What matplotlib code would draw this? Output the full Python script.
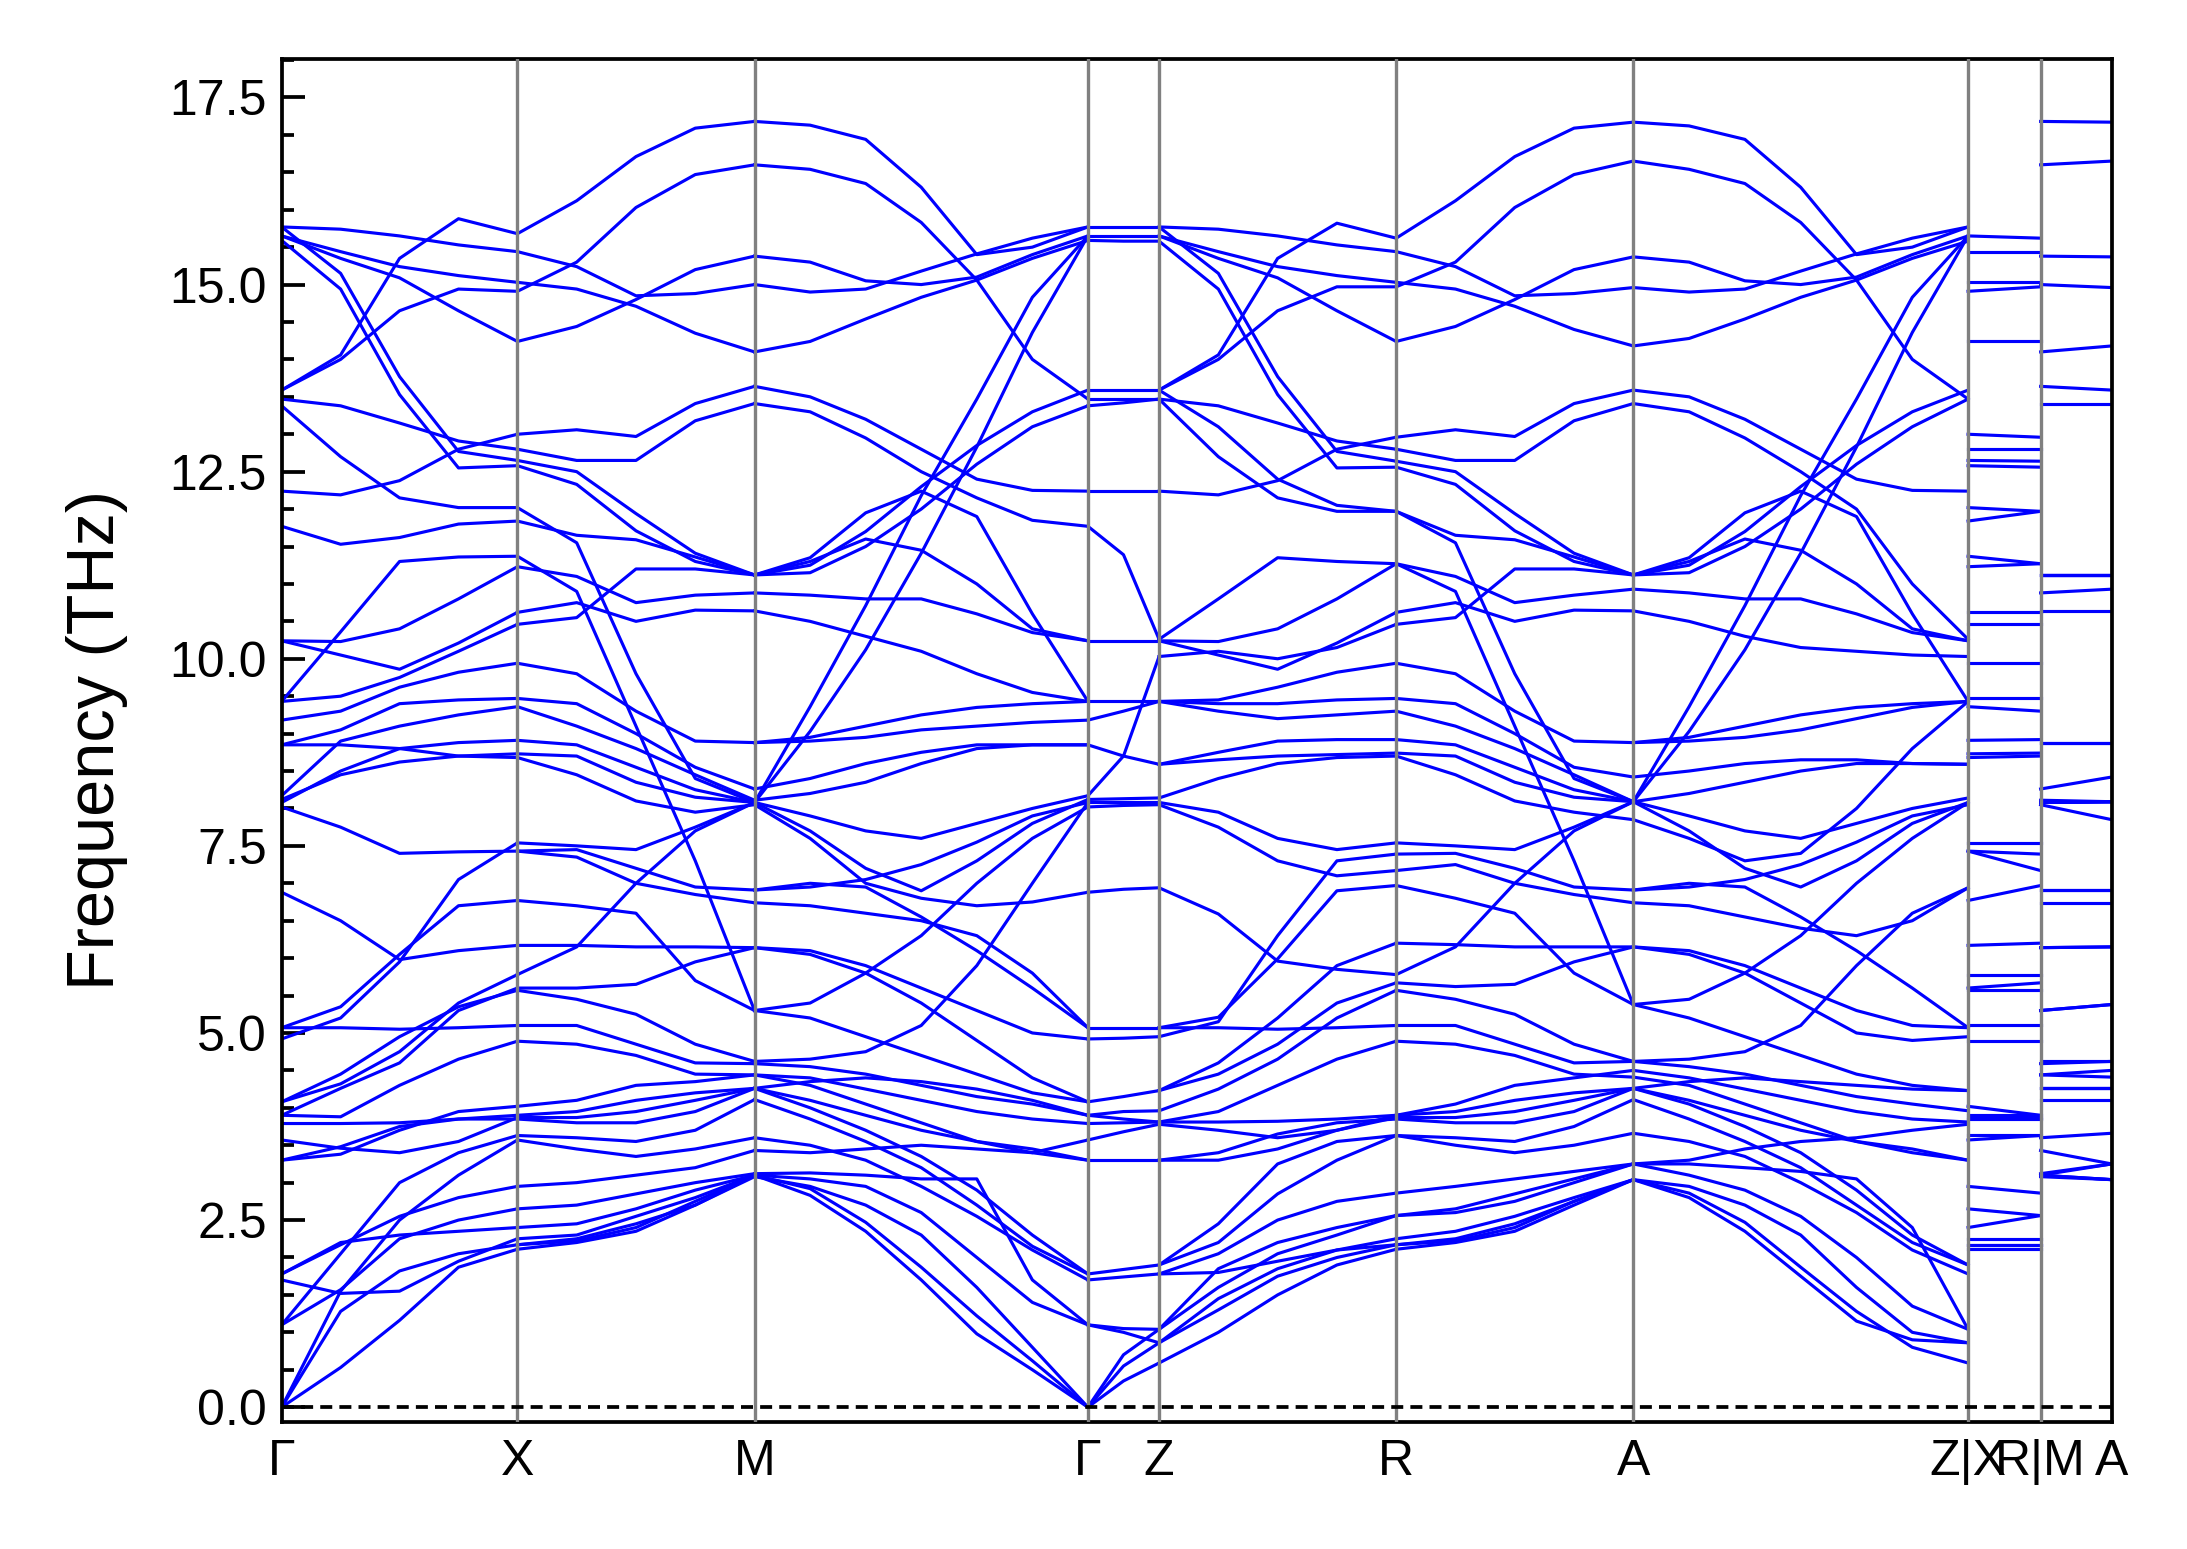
import numpy as np
import matplotlib
matplotlib.use("Agg")
import matplotlib.pyplot as plt

plt.rcParams['font.family'] = ['Liberation Sans', 'DejaVu Sans']

# ---------------- data (THz) ----------------
point_labels = ["Γ", "X", "M", "Γ", "Z", "R", "A", "Z|X", "R|M", "A"]
# segment lengths along the q-path (arbitrary reciprocal units)
seg_lengths = [0.169, 0.170, 0.239, 0.051, 0.170, 0.170, 0.240, 0.052, 0.051]

# frequencies at X, R, M, A (used for the short X-R and M-A segments)
X = [2.11, 2.17, 2.17, 2.25, 2.40, 2.65, 2.95, 3.57, 3.63, 3.85, 3.87, 3.90, 4.02, 4.89, 5.10,
     5.57, 5.60, 5.78, 6.17, 6.77, 7.43, 7.43, 7.54, 8.68, 8.73, 8.91, 9.36, 9.47, 9.94,
     10.46, 10.62, 11.23, 11.37, 11.84, 12.02, 12.58, 12.65, 12.80, 13.00,
     14.24, 14.91, 15.03, 15.44, 15.65]
R = [2.11, 2.17, 2.17, 2.25, 2.56, 2.56, 2.86, 3.63, 3.63, 3.85, 3.87, 3.90, 3.90, 4.89, 5.10,
     5.57, 5.67, 5.78, 6.20, 6.97, 7.17, 7.39, 7.54, 8.70, 8.74, 8.92, 9.30, 9.47, 9.94,
     10.46, 10.62, 11.27, 11.27, 11.97, 11.97, 12.56, 12.64, 12.80, 12.96,
     14.24, 14.97, 15.03, 15.44, 15.62]
M = [3.08, 3.10, 3.10, 3.10, 3.12, 3.43, 3.60, 4.11, 4.26, 4.26, 4.26, 4.44, 4.44, 4.59, 4.62,
     5.30, 5.30, 6.14, 6.14, 6.74, 6.91, 6.91, 8.05, 8.08, 8.08, 8.08, 8.08, 8.11, 8.26, 8.88, 8.88,
     10.64, 10.88, 11.12, 11.12, 11.12, 11.12, 13.41, 13.64,
     14.10, 15.00, 15.38, 16.60, 17.18]
A = [3.04, 3.04, 3.04, 3.25, 3.25, 3.25, 3.66, 4.11, 4.26, 4.26, 4.26, 4.41, 4.50, 4.62, 4.62,
     5.38, 5.38, 6.15, 6.15, 6.74, 6.91, 6.91, 7.85, 8.09, 8.09, 8.09, 8.09, 8.09, 8.42, 8.88, 8.88,
     10.64, 10.93, 11.12, 11.12, 11.12, 11.12, 13.41, 13.59,
     14.18, 14.96, 15.37, 16.65, 17.17]

# band curves, one row per band, values at evenly spaced q-points of each segment
bands_GX = [
    [0.00, 0.53, 1.16, 1.87, 2.11], [0.00, 1.28, 1.82, 2.05, 2.17], [0.00, 1.55, 2.50, 3.10, 3.57],
    [1.10, 2.05, 3.00, 3.40, 3.63], [1.10, 1.57, 2.25, 2.50, 2.65], [1.70, 1.52, 1.55, 1.95, 2.25],
    [1.78, 2.17, 2.55, 2.80, 2.95], [1.78, 2.20, 2.30, 2.35, 2.40], [3.30, 3.38, 3.70, 3.95, 4.02],
    [3.30, 3.48, 3.75, 3.85, 3.85], [3.57, 3.46, 3.40, 3.55, 3.87], [3.79, 3.79, 3.80, 3.85, 3.90],
    [3.90, 3.88, 4.30, 4.65, 4.89], [3.90, 4.26, 4.60, 5.30, 5.60], [4.08, 4.32, 4.75, 5.40, 5.78],
    [4.08, 4.45, 4.95, 5.35, 5.57], [4.92, 5.20, 5.95, 7.05, 7.54], [5.07, 5.35, 6.05, 6.70, 6.77],
    [5.07, 5.07, 5.05, 5.07, 5.10], [6.88, 6.50, 5.98, 6.10, 6.17], [8.02, 7.75, 7.40, 7.42, 7.43],
    [8.08, 8.50, 8.80, 8.88, 8.91], [8.12, 8.45, 8.62, 8.70, 8.73], [8.17, 8.90, 9.10, 9.25, 9.36],
    [8.85, 8.85, 8.80, 8.70, 8.68], [8.85, 9.05, 9.40, 9.45, 9.47], [9.18, 9.30, 9.62, 9.82, 9.94],
    [9.43, 10.36, 11.30, 11.36, 11.37], [9.43, 9.50, 9.75, 10.10, 10.46], [10.24, 10.23, 10.40, 10.80, 11.23],
    [10.24, 10.05, 9.86, 10.21, 10.62], [11.77, 11.53, 11.62, 11.80, 11.84], [12.24, 12.19, 12.38, 12.80, 13.00],
    [13.38, 12.70, 12.15, 12.02, 12.02], [13.47, 13.38, 13.15, 12.91, 12.80], [15.59, 14.94, 13.53, 12.55, 12.58],
    [15.77, 15.15, 13.77, 12.77, 12.65], [13.59, 14.06, 15.35, 15.88, 15.68], [13.59, 14.00, 14.65, 14.94, 14.91],
    [15.65, 15.44, 15.24, 15.12, 15.03], [15.65, 15.35, 15.09, 14.65, 14.24], [15.77, 15.74, 15.65, 15.53, 15.44],
]
bands_XM = [
    [15.68, 16.12, 16.71, 17.09, 17.18], [14.91, 15.30, 16.03, 16.47, 16.60], [15.44, 15.24, 14.85, 14.88, 15.00],
    [15.03, 14.94, 14.71, 14.35, 14.10], [14.24, 14.44, 14.80, 15.20, 15.38], [13.00, 13.06, 12.97, 13.41, 13.64],
    [12.80, 12.65, 12.65, 13.18, 13.41], [12.65, 12.50, 11.94, 11.41, 11.12], [12.58, 12.33, 11.71, 11.30, 11.12],
    [11.84, 11.65, 11.59, 11.36, 11.12], [12.02, 11.55, 9.80, 8.40, 8.08], [11.37, 10.90, 9.10, 7.30, 5.30],
    [11.23, 11.10, 10.75, 10.85, 10.88], [10.62, 10.75, 10.50, 10.65, 10.64], [10.46, 10.55, 11.20, 11.20, 11.12],
    [9.94, 9.80, 9.30, 8.90, 8.88], [9.47, 9.40, 9.00, 8.55, 8.26], [9.36, 9.10, 8.80, 8.45, 8.11],
    [8.91, 8.85, 8.55, 8.25, 8.08], [8.73, 8.70, 8.35, 8.15, 8.08], [8.68, 8.45, 8.10, 7.95, 8.05],
    [7.54, 7.50, 7.45, 7.75, 8.08], [7.43, 7.45, 7.20, 6.95, 6.91], [7.43, 7.35, 7.00, 6.85, 6.74],
    [6.77, 6.70, 6.60, 5.70, 5.30], [6.17, 6.17, 6.15, 6.15, 6.14], [5.78, 6.15, 7.00, 7.70, 8.08],
    [5.60, 5.60, 5.65, 5.95, 6.14], [5.57, 5.45, 5.25, 4.85, 4.62], [5.10, 5.10, 4.85, 4.60, 4.59],
    [4.89, 4.85, 4.70, 4.45, 4.44], [4.02, 4.10, 4.30, 4.35, 4.44], [3.90, 3.95, 4.10, 4.20, 4.26],
    [3.87, 3.87, 3.95, 4.10, 4.26], [3.85, 3.80, 3.80, 3.95, 4.26], [3.63, 3.60, 3.55, 3.70, 4.11],
    [3.57, 3.45, 3.35, 3.45, 3.60], [2.95, 3.00, 3.10, 3.20, 3.43], [2.65, 2.70, 2.85, 3.00, 3.12],
    [2.40, 2.45, 2.65, 2.90, 3.10], [2.25, 2.30, 2.55, 2.80, 3.10], [2.17, 2.25, 2.45, 2.70, 3.10],
    [2.11, 2.20, 2.35, 2.70, 3.08], [2.17, 2.22, 2.40, 2.75, 3.10],
]
bands_MG = [
    [17.18, 17.13, 16.94, 16.30, 15.40, 15.50, 15.77], [16.60, 16.54, 16.35, 15.83, 15.06, 14.00, 13.47],
    [15.38, 15.30, 15.05, 15.00, 15.10, 15.40, 15.65], [15.00, 14.90, 14.94, 15.18, 15.41, 15.62, 15.77],
    [14.10, 14.24, 14.54, 14.83, 15.06, 15.35, 15.59], [8.08, 9.36, 10.71, 12.18, 13.47, 14.83, 15.65],
    [8.08, 9.03, 10.12, 11.41, 12.83, 14.36, 15.65], [13.64, 13.50, 13.20, 12.80, 12.40, 12.25, 12.24],
    [13.41, 13.30, 12.95, 12.50, 12.15, 11.85, 11.77], [11.12, 11.35, 11.95, 12.24, 11.90, 10.60, 9.43],
    [11.12, 11.30, 11.60, 11.45, 11.00, 10.40, 10.24], [11.12, 11.25, 11.70, 12.30, 12.85, 13.30, 13.59],
    [11.12, 11.15, 11.50, 12.00, 12.60, 13.10, 13.38], [10.88, 10.85, 10.80, 10.80, 10.60, 10.35, 10.24],
    [10.64, 10.50, 10.30, 10.10, 9.80, 9.55, 9.43], [8.88, 8.90, 8.95, 9.05, 9.10, 9.15, 9.18],
    [8.88, 8.95, 9.10, 9.25, 9.35, 9.40, 9.43], [8.26, 8.40, 8.60, 8.75, 8.85, 8.85, 8.85],
    [8.11, 8.20, 8.35, 8.60, 8.80, 8.85, 8.85], [8.08, 7.90, 7.70, 7.60, 7.80, 8.00, 8.17],
    [8.08, 7.70, 7.20, 6.90, 7.30, 7.80, 8.12], [8.05, 7.60, 7.00, 6.80, 6.70, 6.75, 6.88],
    [6.91, 7.00, 6.95, 6.55, 6.10, 5.60, 5.07], [6.91, 6.95, 7.05, 7.25, 7.55, 7.90, 8.08],
    [6.74, 6.70, 6.60, 6.50, 6.30, 5.80, 5.07], [6.14, 6.10, 5.90, 5.60, 5.30, 5.00, 4.92],
    [6.14, 6.05, 5.80, 5.40, 4.90, 4.40, 4.08], [5.30, 5.40, 5.80, 6.30, 7.00, 7.60, 8.02],
    [5.30, 5.20, 4.95, 4.70, 4.45, 4.20, 4.08], [4.62, 4.65, 4.75, 5.10, 5.90, 7.00, 8.08],
    [4.59, 4.55, 4.45, 4.30, 4.15, 4.05, 3.90], [4.44, 4.40, 4.25, 4.10, 3.95, 3.85, 3.79],
    [4.44, 4.30, 4.05, 3.80, 3.55, 3.40, 3.30], [4.26, 4.10, 3.90, 3.70, 3.55, 3.45, 3.30],
    [4.26, 4.35, 4.40, 4.35, 4.25, 4.10, 3.90], [4.26, 4.00, 3.70, 3.35, 2.90, 2.30, 1.78],
    [4.11, 3.85, 3.55, 3.20, 2.70, 2.15, 1.78], [3.60, 3.50, 3.30, 2.95, 2.55, 2.10, 1.70],
    [3.43, 3.40, 3.45, 3.50, 3.45, 3.40, 3.57], [3.12, 3.13, 3.10, 3.05, 3.05, 1.70, 1.10],
    [3.10, 3.05, 2.95, 2.60, 2.00, 1.40, 1.10], [3.10, 2.92, 2.47, 1.87, 1.22, 0.62, 0.00],
    [3.10, 2.83, 2.35, 1.70, 0.98, 0.50, 0.00], [3.08, 2.95, 2.70, 2.30, 1.60, 0.80, 0.00],
]
bands_GZ = [
    [0.00, 0.35, 0.59], [0.00, 0.55, 0.86], [0.00, 0.70, 1.04], [1.10, 1.05, 1.04], [1.10, 1.00, 0.86],
    [1.70, 1.74, 1.78], [1.78, 1.84, 1.90], [3.30, 3.30, 3.30], [3.57, 3.68, 3.78], [3.79, 3.80, 3.81],
    [3.90, 3.85, 3.81], [3.90, 3.95, 3.96], [4.08, 4.15, 4.23], [4.92, 4.93, 4.95], [5.07, 5.07, 5.07],
    [6.88, 6.92, 6.94], [8.02, 8.04, 8.05], [8.08, 8.08, 8.08], [8.12, 8.13, 8.14], [8.17, 8.70, 10.03],
    [8.85, 8.70, 8.59], [9.18, 9.30, 9.43], [9.43, 9.43, 9.43], [10.24, 10.24, 10.24], [11.77, 11.39, 10.26],
    [12.24, 12.24, 12.24], [13.38, 13.42, 13.47], [13.47, 13.47, 13.47], [13.59, 13.59, 13.59],
    [15.59, 15.58, 15.58], [15.65, 15.65, 15.65], [15.77, 15.77, 15.77],
]
bands_ZR = [
    [15.77, 15.74, 15.65, 15.53, 15.44], [13.59, 14.06, 15.35, 15.82, 15.62], [13.59, 14.00, 14.65, 14.97, 14.97],
    [15.65, 15.44, 15.24, 15.12, 15.03], [15.65, 15.35, 15.09, 14.65, 14.24], [15.58, 14.94, 13.53, 12.55, 12.56],
    [15.77, 15.15, 13.77, 12.77, 12.64], [13.47, 13.38, 13.15, 12.91, 12.80], [13.47, 12.70, 12.15, 11.97, 11.97],
    [12.24, 12.19, 12.38, 12.80, 12.96], [13.59, 13.10, 12.40, 12.05, 11.97], [10.26, 10.80, 11.35, 11.30, 11.27],
    [10.24, 10.23, 10.40, 10.80, 11.27], [10.24, 10.05, 9.86, 10.21, 10.62], [10.03, 10.10, 10.00, 10.15, 10.46],
    [9.43, 9.45, 9.62, 9.82, 9.94], [9.43, 9.40, 9.40, 9.45, 9.47], [9.43, 9.30, 9.20, 9.25, 9.30],
    [8.59, 8.75, 8.90, 8.92, 8.92], [8.59, 8.65, 8.70, 8.72, 8.74], [8.14, 8.40, 8.60, 8.68, 8.70],
    [8.08, 7.95, 7.60, 7.45, 7.54], [8.05, 7.75, 7.30, 7.10, 7.17], [6.94, 6.59, 5.96, 5.85, 5.78],
    [5.07, 5.21, 5.99, 6.90, 6.97], [4.95, 5.15, 6.30, 7.30, 7.39], [5.07, 5.07, 5.05, 5.07, 5.10],
    [4.23, 4.45, 4.85, 5.40, 5.67], [3.96, 4.25, 4.65, 5.20, 5.57], [3.81, 3.95, 4.30, 4.65, 4.89],
    [3.81, 3.81, 3.82, 3.85, 3.90], [3.78, 3.70, 3.60, 3.70, 3.87], [3.30, 3.40, 3.65, 3.80, 3.85],
    [3.30, 3.30, 3.45, 3.70, 3.90], [4.23, 4.60, 5.20, 5.90, 6.20], [1.90, 2.45, 3.25, 3.55, 3.63],
    [1.90, 2.20, 2.85, 3.30, 3.63], [1.78, 2.05, 2.50, 2.75, 2.86], [1.04, 1.85, 2.20, 2.40, 2.56],
    [1.04, 1.60, 2.05, 2.30, 2.56], [0.86, 1.45, 1.85, 2.10, 2.25], [0.86, 1.30, 1.75, 2.00, 2.17],
    [0.59, 1.00, 1.50, 1.90, 2.11], [1.78, 1.80, 1.95, 2.10, 2.17],
]
bands_RA = [
    [15.62, 16.12, 16.71, 17.09, 17.17], [14.97, 15.30, 16.03, 16.47, 16.65], [15.44, 15.24, 14.85, 14.88, 14.96],
    [15.03, 14.94, 14.71, 14.40, 14.18], [14.24, 14.44, 14.80, 15.20, 15.37], [12.96, 13.06, 12.97, 13.41, 13.59],
    [12.80, 12.65, 12.65, 13.18, 13.41], [12.64, 12.50, 11.94, 11.41, 11.12], [12.56, 12.33, 11.71, 11.30, 11.12],
    [11.97, 11.65, 11.59, 11.36, 11.12], [11.97, 11.55, 9.80, 8.40, 8.09], [11.27, 10.90, 9.10, 7.30, 5.38],
    [11.27, 11.10, 10.75, 10.85, 10.93], [10.62, 10.75, 10.50, 10.65, 10.64], [10.46, 10.55, 11.20, 11.20, 11.12],
    [9.94, 9.80, 9.30, 8.90, 8.88], [9.47, 9.40, 9.00, 8.55, 8.42], [9.30, 9.10, 8.80, 8.45, 8.09],
    [8.92, 8.85, 8.55, 8.25, 8.09], [8.74, 8.70, 8.35, 8.15, 8.09], [8.70, 8.45, 8.10, 7.95, 7.85],
    [7.54, 7.50, 7.45, 7.75, 8.09], [7.39, 7.40, 7.20, 6.95, 6.91], [7.17, 7.25, 7.00, 6.85, 6.74],
    [6.97, 6.80, 6.60, 5.80, 5.38], [6.20, 6.18, 6.15, 6.15, 6.15], [5.78, 6.15, 7.00, 7.70, 8.09],
    [5.67, 5.62, 5.65, 5.95, 6.15], [5.57, 5.45, 5.25, 4.85, 4.62], [5.10, 5.10, 4.85, 4.60, 4.62],
    [4.89, 4.85, 4.70, 4.45, 4.41], [3.90, 4.05, 4.30, 4.40, 4.50], [3.90, 3.95, 4.10, 4.20, 4.26],
    [3.87, 3.87, 3.95, 4.10, 4.26], [3.85, 3.80, 3.80, 3.95, 4.26], [3.63, 3.60, 3.55, 3.75, 4.11],
    [3.63, 3.50, 3.40, 3.50, 3.66], [2.86, 2.95, 3.05, 3.15, 3.25], [2.56, 2.65, 2.85, 3.05, 3.25],
    [2.56, 2.60, 2.75, 3.00, 3.25], [2.25, 2.35, 2.55, 2.80, 3.04], [2.17, 2.25, 2.45, 2.75, 3.04],
    [2.11, 2.20, 2.35, 2.70, 3.04], [2.17, 2.22, 2.40, 2.75, 3.04],
]
bands_AZ = [
    [17.17, 17.12, 16.94, 16.30, 15.40, 15.50, 15.77], [16.65, 16.54, 16.35, 15.83, 15.06, 14.00, 13.47],
    [15.37, 15.30, 15.05, 15.00, 15.10, 15.40, 15.65], [14.96, 14.90, 14.94, 15.18, 15.41, 15.62, 15.77],
    [14.18, 14.28, 14.54, 14.83, 15.06, 15.35, 15.58], [8.09, 9.36, 10.71, 12.18, 13.47, 14.83, 15.65],
    [8.09, 9.03, 10.12, 11.41, 12.83, 14.36, 15.65], [13.59, 13.50, 13.20, 12.80, 12.40, 12.25, 12.24],
    [13.41, 13.30, 12.95, 12.50, 12.00, 11.00, 10.26], [11.12, 11.35, 11.95, 12.24, 11.90, 10.60, 9.43],
    [11.12, 11.30, 11.60, 11.45, 11.00, 10.40, 10.24], [11.12, 11.25, 11.70, 12.30, 12.85, 13.30, 13.59],
    [11.12, 11.15, 11.50, 12.00, 12.60, 13.10, 13.47], [10.93, 10.88, 10.80, 10.80, 10.60, 10.35, 10.24],
    [10.64, 10.50, 10.30, 10.15, 10.10, 10.05, 10.03], [8.88, 8.90, 8.95, 9.05, 9.20, 9.35, 9.43],
    [8.88, 8.95, 9.10, 9.25, 9.35, 9.40, 9.43], [8.42, 8.50, 8.60, 8.65, 8.65, 8.60, 8.59],
    [8.09, 8.20, 8.35, 8.50, 8.60, 8.60, 8.59], [8.09, 7.90, 7.70, 7.60, 7.80, 8.00, 8.14],
    [8.09, 7.70, 7.20, 6.95, 7.30, 7.80, 8.08], [7.85, 7.60, 7.30, 7.40, 8.00, 8.80, 9.43],
    [6.91, 7.00, 6.95, 6.55, 6.10, 5.60, 5.07], [6.91, 6.95, 7.05, 7.25, 7.55, 7.90, 8.05],
    [6.74, 6.70, 6.55, 6.40, 6.30, 6.50, 6.94], [6.15, 6.10, 5.90, 5.60, 5.30, 5.10, 5.07],
    [6.15, 6.05, 5.80, 5.40, 5.00, 4.90, 4.95], [5.38, 5.45, 5.80, 6.30, 7.00, 7.60, 8.08],
    [5.38, 5.20, 4.95, 4.70, 4.45, 4.30, 4.23], [4.62, 4.65, 4.75, 5.10, 5.90, 6.60, 6.94],
    [4.62, 4.55, 4.45, 4.30, 4.15, 4.05, 3.96], [4.50, 4.40, 4.25, 4.10, 3.95, 3.85, 3.81],
    [4.41, 4.30, 4.05, 3.80, 3.55, 3.40, 3.30], [4.26, 4.10, 3.90, 3.70, 3.55, 3.45, 3.30],
    [4.26, 4.35, 4.40, 4.35, 4.30, 4.25, 4.23], [4.26, 4.05, 3.75, 3.40, 2.90, 2.30, 1.90],
    [4.11, 3.85, 3.55, 3.20, 2.70, 2.20, 1.90], [3.66, 3.55, 3.35, 3.00, 2.60, 2.10, 1.78],
    [3.25, 3.30, 3.45, 3.55, 3.60, 3.70, 3.78], [3.25, 3.25, 3.20, 3.15, 3.05, 2.40, 1.04],
    [3.25, 3.10, 2.90, 2.55, 2.00, 1.35, 1.04], [3.04, 2.86, 2.47, 1.87, 1.28, 0.80, 0.59],
    [3.04, 2.80, 2.35, 1.75, 1.15, 0.90, 0.86], [3.04, 2.95, 2.70, 2.30, 1.60, 1.00, 0.86],
]
bands_XR = [list(p) for p in zip(X, R)]
bands_MA = [list(p) for p in zip(M, A)]

segments = [bands_GX, bands_XM, bands_MG, bands_GZ, bands_ZR, bands_RA, bands_AZ, bands_XR, bands_MA]

# ---------------- figure ----------------
fig = plt.figure(figsize=(2187 / 300, 1549 / 300), dpi=300)
ax = fig.add_axes([0.1288, 0.0819, 0.9656 - 0.1288, 0.9622 - 0.0819])

bounds = np.concatenate([[0.0], np.cumsum(seg_lengths)])
for i, bands in enumerate(segments):
    for band in bands:
        xs = np.linspace(bounds[i], bounds[i + 1], len(band))
        ax.plot(xs, band, color='#0000ff', lw=0.75, solid_joinstyle='round')

for xb in bounds[1:-1]:
    ax.axvline(xb, color='gray', lw=0.8, zorder=3)
ax.axhline(0.0, color='black', lw=0.9, ls=(0, (3.2, 1.9)), zorder=3)

ax.set_xlim(bounds[0], bounds[-1])
ax.set_ylim(-0.2, 18.02)
ax.set_xticks(bounds)
ax.set_xticklabels(point_labels, fontsize=12)
ax.tick_params(axis='x', length=0, pad=4)
yt = np.arange(0, 17.6, 2.5)
ax.set_yticks(yt)
ax.set_yticklabels([f"{v:.1f}" for v in yt], fontsize=12)
ax.set_yticks(np.arange(0, 18.01, 0.5), minor=True)
ax.tick_params(axis='y', which='major', direction='in', length=5.6, width=0.9)
ax.tick_params(axis='y', which='minor', direction='in', length=2.9, width=0.9)
ax.set_ylabel("Frequency (THz)", fontsize=16, labelpad=10)
for sp in ax.spines.values():
    sp.set_linewidth(0.9)

fig.savefig("out.png", dpi=300)
